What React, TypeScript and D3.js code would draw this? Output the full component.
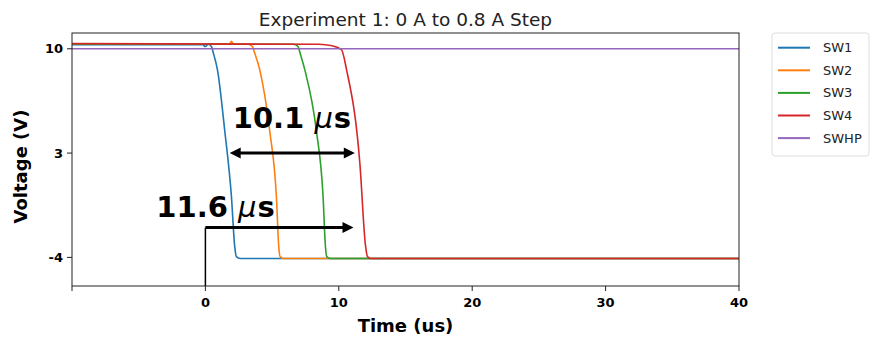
import * as d3 from "d3";

// step response
const seriesNames = ["SW1", "SW2", "SW3", "SW4", "SWHP"];
const seriesColors = ["#1f77b4", "#ff7f0e", "#2ca02c", "#d62728", "#9467bd"];

const timeSW1 = [-10, -0.2, 0, 0.2, 0.45, 0.6, 0.9, 1.45, 1.95, 2.2, 2.32, 2.6, 40];
const voltSW1 = [10.28, 10.28, 10.15, 10.3, 10.15, 9.7, 8.6, 4.5, 0.1, -3.3, -3.95, -4.07, -4.07];

const timeSW2 = [-10, 1.8, 1.95, 2.1, 3.2, 3.52, 3.7, 4.07, 4.82, 5.32, 5.5, 5.6, 5.85, 40];
const voltSW2 = [10.3, 10.3, 10.5, 10.3, 10.3, 10.15, 9.7, 8.6, 4.5, 0.1, -3.3, -3.95, -4.07, -4.07];

const timeSW3 = [-10, 6.6, 6.95, 7.1, 7.45, 8.32, 8.82, 9.0, 9.1, 9.35, 40];
const voltSW3 = [10.3, 10.3, 10.15, 9.7, 8.6, 4.5, 0.1, -3.3, -3.95, -4.07, -4.07];

const timeSW4 = [-10, 8.5, 9.5, 10.2, 10.58, 11.58, 12.0, 12.15, 12.4, 40];
const voltSW4 = [10.35, 10.3, 10.2, 9.95, 8.6, 2.3, -3.2, -3.95, -4.07, -4.07];

const timeSWHP = [-10, 40];
const voltSWHP = [10, 10];

const allTimes = [timeSW1, timeSW2, timeSW3, timeSW4, timeSWHP];
const allVolts = [voltSW1, voltSW2, voltSW3, voltSW4, voltSWHP];

const xTicks = [-10, 0, 10, 20, 30, 40];
const xTickLabels = ["", "0", "10", "20", "30", "40"];
const yTicks = [10, 3, -4];

// annotations (data coords)
const spanLabel = { text: "10.1", x: 2.05, y: 4.68 };
const spanArrow = { x1: 1.82, x2: 11.2, y: 3 };
const delayLabel = { text: "11.6", x: -3.68, y: -1.29 };
const delayArrow = { x1: 0, x2: 11.1, y: -2 };

const width = 872;
const height = 339;
const margin = { top: 33, right: 133, bottom: 53, left: 72 };
const font = "DejaVu Sans";

export default function App() {
  const innerWidth = width - margin.left - margin.right;
  const innerHeight = height - margin.top - margin.bottom;

  const xScale = d3.scaleLinear().domain([-10, 40]).range([0, innerWidth]);
  const yScale = d3.scaleLinear().domain([-5.92, 11.06]).range([innerHeight, 0]);

  const line = d3
    .line<[number, number]>()
    .x((d) => xScale(d[0]))
    .y((d) => yScale(d[1]))
    .curve(d3.curveMonotoneX);

  const arrowHead = (x: number, y: number, dir: number) => {
    const len = 11;
    const half = 5.5;
    return `M${x},${y} L${x - dir * len},${y - half} L${x - dir * len},${y + half} Z`;
  };

  const legendRow = 22.6;

  return (
    <svg
      width={width}
      height={height}
      style={{ position: "absolute", left: 0, top: 0, background: "white" }}
      fontFamily={font}
    >
      <text x={margin.left + innerWidth / 2} y={25.5} textAnchor="middle" fontSize={18.5} fill="#222">
        Experiment 1: 0 A to 0.8 A Step
      </text>

      <g transform={`translate(${margin.left}, ${margin.top})`}>
        <defs>
          <clipPath id="plot-clip">
            <rect x={0} y={0} width={innerWidth} height={innerHeight} />
          </clipPath>
        </defs>

        {/* Series */}
        <g clipPath="url(#plot-clip)">
          {seriesNames.map((name, i) => (
            <path
              key={name}
              d={line(allTimes[i].map((t, j) => [t, allVolts[i][j]] as [number, number])) || ""}
              fill="none"
              stroke={seriesColors[i]}
              strokeWidth={1.6}
            />
          ))}
        </g>

        {/* Annotations */}
        <text x={xScale(spanLabel.x)} y={yScale(spanLabel.y)} fontSize={29} fontWeight="bold" fill="#000">
          {spanLabel.text}{" "}
          <tspan fontStyle="italic" fontWeight="normal">μ</tspan>
          <tspan dx={1}>s</tspan>
        </text>
        <line
          x1={xScale(spanArrow.x1) + 9}
          x2={xScale(spanArrow.x2) - 9}
          y1={yScale(spanArrow.y)}
          y2={yScale(spanArrow.y)}
          stroke="#000"
          strokeWidth={3}
        />
        <path d={arrowHead(xScale(spanArrow.x2), yScale(spanArrow.y), 1)} fill="#000" />
        <path d={arrowHead(xScale(spanArrow.x1), yScale(spanArrow.y), -1)} fill="#000" />

        <text x={xScale(delayLabel.x)} y={yScale(delayLabel.y)} fontSize={29} fontWeight="bold" fill="#000">
          {delayLabel.text}{" "}
          <tspan fontStyle="italic" fontWeight="normal">μ</tspan>
          <tspan dx={1}>s</tspan>
        </text>
        <line
          x1={xScale(delayArrow.x1)}
          x2={xScale(delayArrow.x2) - 9}
          y1={yScale(delayArrow.y)}
          y2={yScale(delayArrow.y)}
          stroke="#000"
          strokeWidth={3}
        />
        <path d={arrowHead(xScale(delayArrow.x2), yScale(delayArrow.y), 1)} fill="#000" />
        <line
          x1={xScale(0)}
          x2={xScale(0)}
          y1={yScale(delayArrow.y)}
          y2={innerHeight}
          stroke="#000"
          strokeWidth={1.5}
        />

        {/* Spines */}
        <rect x={0} y={0} width={innerWidth} height={innerHeight} fill="none" stroke="#222" strokeWidth={1} />

        {/* X axis */}
        {xTicks.map((t, i) => (
          <g key={t} transform={`translate(${xScale(t)}, ${innerHeight})`}>
            <line y1={0} y2={5} stroke="#222" />
            <text y={21} textAnchor="middle" fontSize={13} fontWeight="bold" fill="#000">
              {xTickLabels[i]}
            </text>
          </g>
        ))}
        <text
          x={innerWidth / 2}
          y={innerHeight + 46}
          textAnchor="middle"
          fontSize={18}
          fontWeight="bold"
          fill="#000"
        >
          Time (us)
        </text>

        {/* Y axis */}
        {yTicks.map((v) => (
          <g key={v} transform={`translate(0, ${yScale(v)})`}>
            <line x1={-5} x2={0} stroke="#222" />
            <text x={-9} dy="0.35em" textAnchor="end" fontSize={13} fontWeight="bold" fill="#000">
              {v}
            </text>
          </g>
        ))}
        <text
          transform={`translate(${-45}, ${innerHeight / 2 + 7}) rotate(-90)`}
          textAnchor="middle"
          fontSize={18}
          fontWeight="bold"
          fill="#000"
        >
          Voltage (V)
        </text>
      </g>

      {/* Legend */}
      <g transform="translate(772, 33)">
        <rect x={0} y={0} width={97} height={123} rx={3} fill="white" stroke="#ddd" />
        {seriesNames.map((name, i) => (
          <g key={name} transform={`translate(0, ${14.7 + i * legendRow})`}>
            <line x1={6} x2={38} stroke={seriesColors[i]} strokeWidth={2} />
            <text x={51} dy="0.35em" fontSize={13} fill="#222">
              {name}
            </text>
          </g>
        ))}
      </g>
    </svg>
  );
}
